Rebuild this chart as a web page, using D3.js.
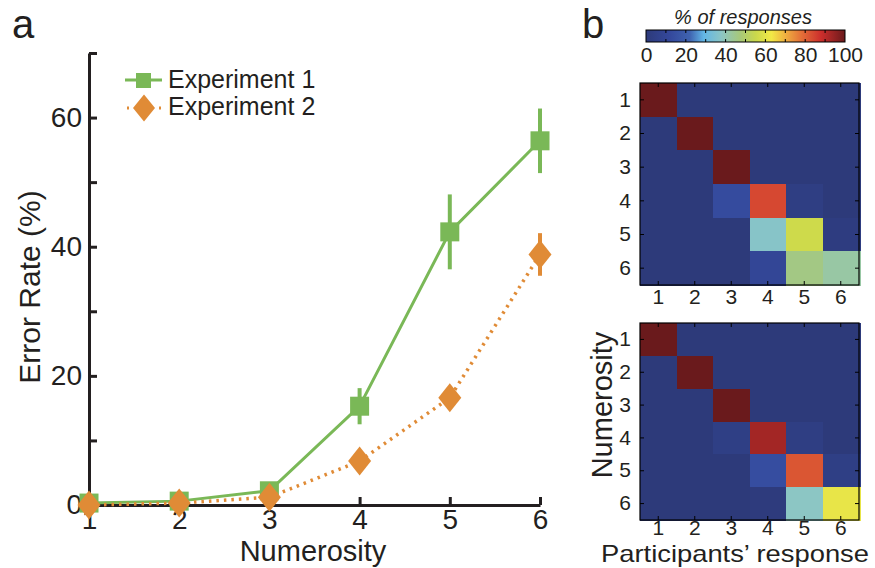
<!DOCTYPE html>
<html>
<head>
<meta charset="utf-8">
<script src="https://cdn.jsdelivr.net/npm/d3@7"></script>
<style>
body { margin: 0; background: #fff; }
text { font-family: "Liberation Sans", Arial, sans-serif; fill: #231f20; }
</style>
</head>
<body>
<div id="viz"></div>
<script>
// error rates per numerosity
var numerosity = [1, 2, 3, 4, 5, 6];
var exp1Mean = [0.3, 0.6, 2.2, 15.3, 42.3, 56.4];
var exp1Err = [0.2, 0.3, 0.6, 2.8, 5.8, 5.0];
var exp2Mean = [0.0, 0.3, 1.2, 6.8, 16.6, 38.8];
var exp2Err = [0.2, 0.2, 0.5, 1.2, 1.5, 3.3];
var yTicks = [0, 10, 20, 30, 40, 50, 60, 70];
var seriesNames = ["Experiment 1", "Experiment 2"];

// confusion matrices (% of responses), rows = numerosity, cols = response
var confusionExp1 = [
  [100, 0, 0, 0, 0, 0],
  [0, 100, 0, 0, 0, 0],
  [0, 0, 100, 0, 0, 0],
  [0, 0, 13, 84, 3, 0],
  [0, 0, 0, 37, 56, 2],
  [0, 0, 0, 10, 46, 42]
];
var confusionExp2 = [
  [100, 0, 0, 0, 0, 0],
  [0, 100, 0, 0, 0, 0],
  [0, 0, 100, 0, 0, 0],
  [0, 0, 4, 93, 3, 0],
  [0, 0, 0, 14, 82, 4],
  [0, 0, 0, 1, 38, 61]
];
var colorTicks = [0, 20, 40, 60, 80, 100];
var colorStopValues = [0, 12, 22, 29, 38, 47, 55, 63, 70, 78, 88, 100];
var colorStopColors = ["#2d3a7a", "#34489c", "#3f63b0", "#62b6e6", "#8cc6c4", "#a6c87c",
  "#c9d84c", "#f2e946", "#f0b040", "#e47038", "#cc2e2c", "#6a1a1c"];

var green = "#7ab857", orange = "#e08b36", ink = "#231f20";

var svg = d3.select("#viz")
  .append("svg")
  .attr("width", 875)
  .attr("height", 568);

// ---------- panel a ----------
var x = d3.scaleLinear().domain([1, 6]).range([89, 540]);
var y = d3.scaleLinear().domain([0, 70]).range([505, 53]);

var gy = svg.append("g").attr("transform", "translate(" + x(1) + ",0)")
  .call(d3.axisLeft(y).tickValues(yTicks)
    .tickFormat(function(d) { return d % 20 == 0 ? d : ""; })
    .tickSize(-8).tickSizeOuter(0).tickPadding(7));
var gx = svg.append("g").attr("transform", "translate(0," + y(0) + ")")
  .call(d3.axisBottom(x).tickValues(numerosity).tickFormat(d3.format("d"))
    .tickSize(-8).tickSizeOuter(0).tickPadding(4));
[gy, gx].forEach(function(g) {
  g.selectAll("path, line").attr("stroke", ink).attr("stroke-width", 3);
  g.selectAll("text").style("font-size", "28px").attr("fill", ink);
});

svg.append("text").attr("transform", "translate(40,287) rotate(-90)")
  .attr("text-anchor", "middle").style("font-size", "30px").text("Error Rate (%)");
svg.append("text").attr("x", 313).attr("y", 561)
  .attr("text-anchor", "middle").style("font-size", "29px").text("Numerosity");
svg.append("text").attr("x", 12).attr("y", 38).style("font-size", "40px").text("a");

var line = d3.line()
  .x(function(d, i) { return x(numerosity[i]); })
  .y(function(d) { return y(d); });

function diamond(w, h) {
  return "M0," + (-h / 2) + "L" + (w / 2) + ",0L0," + (h / 2) + "L" + (-w / 2) + ",0Z";
}

// Experiment 1
svg.append("path").datum(exp1Mean).attr("d", line)
  .attr("fill", "none").attr("stroke", green).attr("stroke-width", 3);
svg.selectAll(".err1").data(exp1Mean).enter().append("line")
  .attr("x1", function(d, i) { return x(numerosity[i]); })
  .attr("x2", function(d, i) { return x(numerosity[i]); })
  .attr("y1", function(d, i) { return y(d - exp1Err[i]); })
  .attr("y2", function(d, i) { return y(d + exp1Err[i]); })
  .attr("stroke", green).attr("stroke-width", 4);
svg.selectAll(".sq").data(exp1Mean).enter().append("rect")
  .attr("x", function(d, i) { return x(numerosity[i]) - 9.5; })
  .attr("y", function(d) { return y(d) - 9.5; })
  .attr("width", 19).attr("height", 19).attr("fill", green);

// Experiment 2
svg.append("path").datum(exp2Mean).attr("d", line)
  .attr("fill", "none").attr("stroke", orange).attr("stroke-width", 3.5)
  .attr("stroke-dasharray", "2.5,5");
svg.selectAll(".err2").data(exp2Mean).enter().append("line")
  .attr("x1", function(d, i) { return x(numerosity[i]); })
  .attr("x2", function(d, i) { return x(numerosity[i]); })
  .attr("y1", function(d, i) { return y(d - exp2Err[i]); })
  .attr("y2", function(d, i) { return y(d + exp2Err[i]); })
  .attr("stroke", orange).attr("stroke-width", 4);
svg.selectAll(".dm").data(exp2Mean).enter().append("path")
  .attr("transform", function(d, i) { return "translate(" + x(numerosity[i]) + "," + y(d) + ")"; })
  .attr("d", diamond(23, 29)).attr("fill", orange);

// legend
var leg = svg.append("g");
leg.append("line").attr("x1", 125).attr("x2", 162).attr("y1", 80).attr("y2", 80)
  .attr("stroke", green).attr("stroke-width", 3);
leg.append("rect").attr("x", 136).attr("y", 73).attr("width", 15).attr("height", 15).attr("fill", green);
leg.append("line").attr("x1", 127).attr("x2", 161).attr("y1", 108).attr("y2", 108)
  .attr("stroke", orange).attr("stroke-width", 3).attr("stroke-dasharray", "2,30");
leg.append("path").attr("transform", "translate(144,108)").attr("d", diamond(22, 27)).attr("fill", orange);
leg.selectAll(".lt").data(seriesNames).enter().append("text")
  .attr("x", 168).attr("y", function(d, i) { return 88 + i * 27; })
  .style("font-size", "25px").text(function(d) { return d; });

// ---------- panel b ----------
svg.append("text").attr("x", 582).attr("y", 38).style("font-size", "40px").text("b");

var color = d3.scaleLinear().domain(colorStopValues).range(colorStopColors).clamp(true);

function drawMatrix(matrix, top, bottom, pad) {
  var xb = d3.scaleBand().domain(numerosity).range([640, 859]);
  var yb = d3.scaleBand().domain(numerosity).range([top, bottom]);
  var g = svg.append("g");
  matrix.forEach(function(row, r) {
    g.selectAll(null).data(row).enter().append("rect")
      .attr("x", function(d, c) { return Math.round(xb(numerosity[c])); })
      .attr("y", Math.round(yb(numerosity[r])))
      .attr("width", Math.ceil(xb.bandwidth()) + 1)
      .attr("height", Math.ceil(yb.bandwidth()) + 1)
      .attr("shape-rendering", "crispEdges")
      .attr("fill", function(d) { return color(d); });
  });
  g.append("rect").attr("x", 640).attr("y", top).attr("width", 219).attr("height", bottom - top)
    .attr("fill", "none").attr("stroke", "#000").attr("stroke-width", 1.2);
  var axes = [
    g.append("g").attr("transform", "translate(640,0)").call(d3.axisLeft(yb).tickSize(-4).tickPadding(9)),
    g.append("g").attr("transform", "translate(0," + bottom + ")").call(d3.axisBottom(xb).tickSize(-4).tickPadding(pad)),
    g.append("g").attr("transform", "translate(859,0)").call(d3.axisRight(yb).tickSize(-4).tickFormat("")),
    g.append("g").attr("transform", "translate(0," + top + ")").call(d3.axisTop(xb).tickSize(-4).tickFormat(""))
  ];
  axes.forEach(function(a) {
    a.select(".domain").remove();
    a.selectAll("line").attr("stroke", "#000").attr("stroke-width", 1);
    a.selectAll("text").style("font-size", "21px").attr("fill", ink);
  });
}
drawMatrix(confusionExp1, 83, 285, 4);
drawMatrix(confusionExp2, 323, 520, 0);

svg.append("text").attr("transform", "translate(612,405) rotate(-90)")
  .attr("text-anchor", "middle").style("font-size", "29px").text("Numerosity");
svg.append("text").attr("x", 735).attr("y", 562)
  .attr("text-anchor", "middle").style("font-size", "24px")
  .attr("textLength", 268).attr("lengthAdjust", "spacingAndGlyphs")
  .text("Participants\u2019 response");

// colorbar
var cx = d3.scaleLinear().domain([0, 100]).range([646, 845]);
var grad = svg.append("defs").append("linearGradient").attr("id", "cbar");
colorStopValues.forEach(function(v, i) {
  grad.append("stop").attr("offset", v + "%").attr("stop-color", colorStopColors[i]);
});
svg.append("rect").attr("x", cx(0)).attr("y", 30).attr("width", cx(100) - cx(0)).attr("height", 12)
  .attr("fill", "url(#cbar)").attr("stroke", "#000").attr("stroke-width", 1);
var cb = svg.append("g").attr("transform", "translate(0,42)")
  .call(d3.axisBottom(cx).tickValues(colorTicks).tickSize(0).tickPadding(5));
cb.select(".domain").remove();
cb.selectAll("text").style("font-size", "21px").attr("fill", ink);
var minor = d3.range(10, 100, 10);
svg.selectAll(".cbt").data(minor).enter().append("line")
  .attr("x1", function(d) { return cx(d); }).attr("x2", function(d) { return cx(d); })
  .attr("y1", 30).attr("y2", 33).attr("stroke", "#000");
svg.selectAll(".cbb").data(minor).enter().append("line")
  .attr("x1", function(d) { return cx(d); }).attr("x2", function(d) { return cx(d); })
  .attr("y1", 39).attr("y2", 42).attr("stroke", "#000");
svg.append("text").attr("x", 743).attr("y", 24).attr("text-anchor", "middle")
  .style("font-size", "20px").style("font-style", "italic").text("% of responses");
</script>
</body>
</html>
